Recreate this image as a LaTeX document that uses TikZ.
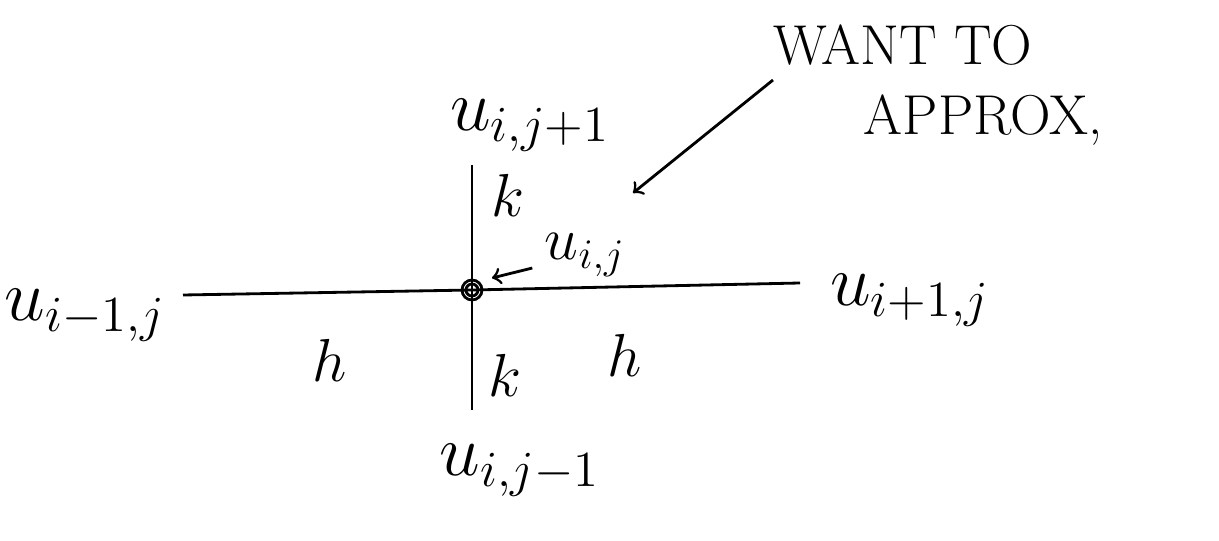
\documentclass[tikz,border=0pt]{standalone}
\usetikzlibrary{positioning}
\begin{document}
\begin{tikzpicture}[lbl/.style={font=\huge}, arm/.style={thick}, note/.style={font=\fontsize{16}{19}\selectfont}]
        \useasboundingbox (0,0) rectangle (12.19,5.40);
        % grid point and its neighbours
        \coordinate (c) at (4.72,2.50);
        \coordinate (w) at (1.83,2.45);
        \coordinate (e) at (8.00,2.57);
        \coordinate (n) at (4.72,3.75);
        \coordinate (s) at (4.72,1.30);
        \draw[arm] (w) -- (c) -- (e);
        \draw[arm] (n) -- (c) -- (s);
        \draw[thick] (c) circle (0.1) (c) circle (0.06);
        \node[lbl] (unorth) at (5.30,4.15) {$u_{i,j+1}$};
        \node[lbl] (uwest) at (0.85,2.25) {$u_{i-1,j}$};
        \node[lbl] (ueast) at (9.10,2.40) {$u_{i+1,j}$};
        \node[lbl] (usouth) at (5.20,0.70) {$u_{i,j-1}$};
        \node[font=\LARGE] (uij) at (5.85,2.85) {$u_{i,j}$};
        \node[font=\LARGE] (ktop) at (5.08,3.45) {$k$};
        \node[font=\LARGE] (kbot) at (5.05,1.65) {$k$};
        \node[font=\LARGE] (hleft) at (3.30,1.80) {$h$};
        \node[font=\LARGE] (hright) at (6.25,1.85) {$h$};
        % note
        \node[note] (want) at (9.03,4.95) {WANT TO};
        \node[note] (approx) at (9.83,4.20) {APPROX,};
        \coordinate (from) at (7.73,4.60);
        \coordinate (tip) at (6.33,3.47);
        \draw[thick,->] (from) -- (tip);
        \draw[thick,->] (uij) -- (4.92,2.62);
    \end{tikzpicture}
\end{document}
